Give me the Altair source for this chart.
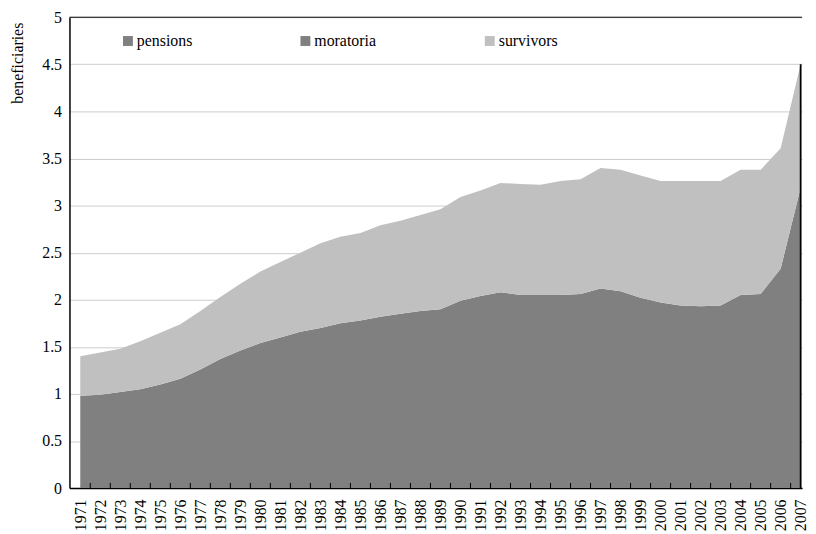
import altair as alt
import pandas as pd

years = list(range(1971, 2008))
series_names = ["pensions", "moratoria", "survivors"]
series_colors = ["#808080", "#808080", "#c0c0c0"]

pensions = [0.98, 0.99, 1.02, 1.05, 1.10, 1.16, 1.26, 1.37, 1.46, 1.54,
            1.60, 1.66, 1.70, 1.75, 1.78, 1.82, 1.85, 1.88, 1.90, 1.99,
            2.04, 2.08, 2.05, 2.05, 2.05, 2.06, 2.12, 2.09, 2.02, 1.97,
            1.94, 1.93, 1.94, 2.05, 2.06, 2.06, 2.06]
moratoria = [0, 0, 0, 0, 0, 0, 0, 0, 0, 0,
             0, 0, 0, 0, 0, 0, 0, 0, 0, 0,
             0, 0, 0, 0, 0, 0, 0, 0, 0, 0,
             0, 0, 0, 0, 0.0, 0.27, 1.13]
survivors = [0.42, 0.45, 0.46, 0.51, 0.55, 0.58, 0.62, 0.66, 0.71, 0.76,
             0.80, 0.84, 0.90, 0.92, 0.93, 0.97, 0.99, 1.02, 1.06, 1.10,
             1.12, 1.16, 1.18, 1.17, 1.21, 1.22, 1.28, 1.29, 1.30, 1.29,
             1.32, 1.33, 1.32, 1.33, 1.32, 1.28, 1.31]
y_ticks = [0, 0.5, 1, 1.5, 2, 2.5, 3, 3.5, 4, 4.5, 5]

rows = []
for i, (name, vals) in enumerate(zip(series_names, [pensions, moratoria, survivors])):
    for yr, v in zip(years, vals):
        rows.append({"year": yr, "series": name, "value": v, "idx": i})
df = pd.DataFrame(rows)

FONT = "Liberation Serif"

x_scale = alt.Scale(domain=[1970.46, 2007.07], nice=False, zero=False)
y_scale = alt.Scale(domain=[0, 5], nice=False)

x_axis = alt.Axis(values=years, format="d", labelAngle=-90, ticks=False, grid=False,
                  domainColor="black", domainWidth=1.5, labelPadding=11,
                  labelFont=FONT, labelFontSize=16, labelColor="black",
                  labelOverlap=False, labelFlush=False, labelBound=False, title=None)
y_axis = alt.Axis(values=y_ticks, format="~g", ticks=False, grid=True, gridColor="#cccccc",
                  domainColor="black", domainWidth=1.5, labelPadding=8,
                  labelFont=FONT, labelFontSize=16, labelColor="black",
                  labelOverlap=False,
                  title="beneficiaries", titleFont=FONT, titleFontSize=16,
                  titleFontWeight="normal", titleColor="black",
                  titleAngle=-90, titleAlign="right", titleBaseline="bottom",
                  titleX=-44, titleY=5)

area = alt.Chart(df).mark_area(interpolate="linear").encode(
    x=alt.X("year:Q", scale=x_scale, axis=x_axis),
    y=alt.Y("value:Q", stack="zero", scale=y_scale, axis=y_axis),
    color=alt.Color("series:N",
                    scale=alt.Scale(domain=series_names, range=series_colors),
                    legend=alt.Legend(orient="none", legendX=51, legendY=16,
                                      direction="horizontal", columns=3, title=None,
                                      symbolType="square", symbolSize=100,
                                      symbolStrokeWidth=0, symbolOpacity=1,
                                      labelFont=FONT, labelFontSize=16,
                                      labelColor="black",
                                      labelOffset=1, columnPadding=106, padding=0)),
    order=alt.Order("idx:Q"),
)

top_df = pd.DataFrame({"value": [y_ticks[-1]]})
top_rule = alt.Chart(top_df).mark_rule(color="black", strokeWidth=1).encode(
    y=alt.Y("value:Q", scale=y_scale, axis=y_axis)
)

end_df = pd.DataFrame({
    "year": [years[-1]],
    "value": [0],
    "total": [pensions[-1] + moratoria[-1] + survivors[-1]],
})
end_rule = alt.Chart(end_df).mark_rule(color="black", strokeWidth=1.8).encode(
    x=alt.X("year:Q", scale=x_scale, axis=x_axis),
    y=alt.Y("value:Q", scale=y_scale, axis=y_axis),
    y2="total:Q",
)

tick_df = pd.DataFrame({
    "year": [y + 0.5 for y in years[:-1]],
    "value": [0] * (len(years) - 1),
    "hi": [0.055] * (len(years) - 1),
})
ticks = alt.Chart(tick_df).mark_rule(color="black", strokeWidth=1).encode(
    x=alt.X("year:Q", scale=x_scale, axis=x_axis),
    y=alt.Y("value:Q", scale=y_scale, axis=y_axis),
    y2="hi:Q",
)

chart = alt.layer(area, top_rule, end_rule, ticks).properties(
    width=739,
    height=475,
    autosize=alt.AutoSizeParams(type="none"),
    padding={"left": 62, "top": 7, "right": 6, "bottom": 44},
).configure(font=FONT).configure_view(stroke=None)

chart.save("out.html", embed_options={"renderer": "svg", "actions": False})
